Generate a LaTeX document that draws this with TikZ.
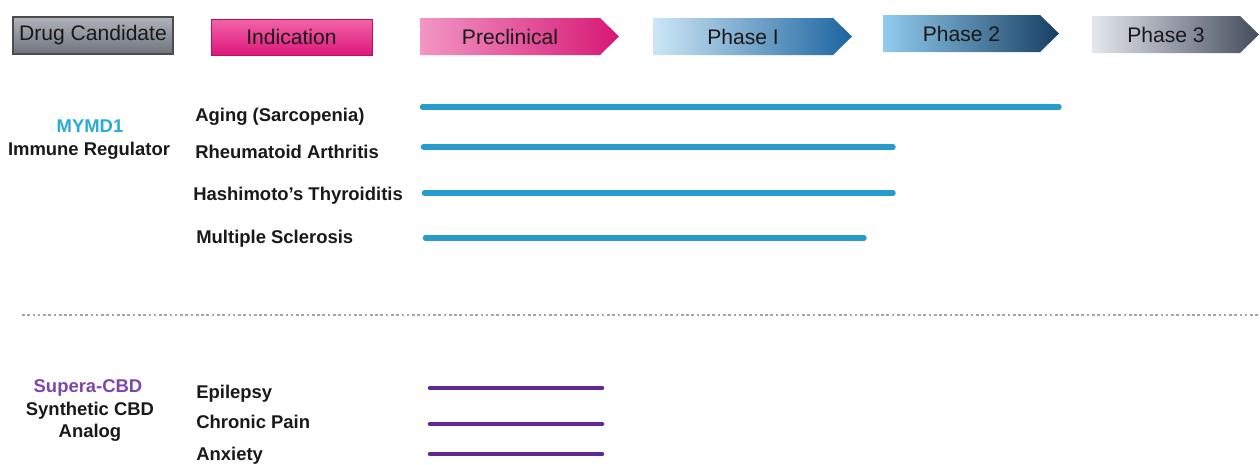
\documentclass[tikz,border=0pt]{standalone}
\usepackage{fontspec}
\setmainfont{Liberation Sans}
\definecolor{mymdblue}{RGB}{40,155,205}
\definecolor{mymdtext}{RGB}{42,170,215}
\definecolor{cbdpurple}{RGB}{95,40,150}
\definecolor{cbdtext}{RGB}{125,70,170}
\definecolor{candtop}{RGB}{175,180,188}
\definecolor{candbot}{RGB}{110,116,124}
\definecolor{indtop}{RGB}{242,100,168}
\definecolor{indbot}{RGB}{222,22,122}
\definecolor{preL}{RGB}{242,150,196}
\definecolor{preR}{RGB}{214,24,116}
\definecolor{phaL}{RGB}{205,230,246}
\definecolor{phaR}{RGB}{28,100,160}
\definecolor{phbL}{RGB}{145,204,238}
\definecolor{phbR}{RGB}{24,62,98}
\definecolor{phcL}{RGB}{228,232,238}
\definecolor{phcR}{RGB}{68,76,92}
\begin{document}
\begin{tikzpicture}[x=0.02cm,y=-0.02cm,
  every node/.style={font=\fontsize{10.5}{12}\selectfont\bfseries,text=black!90,inner sep=0pt},
  hdr/.style={font=\fontsize{12}{14}\selectfont,text=black!90},
  bluebar/.style={line width=3.1pt,mymdblue,line cap=round},
  purplebar/.style={line width=2.6pt,cbdpurple,line cap=round}]
\useasboundingbox (0,0) rectangle (1260,464);
% Header row
\node[hdr,draw=black!70,line width=0.8pt,top color=candtop,bottom color=candbot,minimum width=3.2cm,minimum height=0.74cm] (cand) at (93,35.5) {Drug Candidate};
\node[hdr,draw=indbot!80!black,line width=0.4pt,top color=indtop,bottom color=indbot,minimum width=3.22cm,minimum height=0.72cm] (ind) at (291.5,37) {Indication};
\foreach \xa/\ya/\w/\lc/\rc/\nm/\lbl in {420/18/180/preL/preR/pre/Preclinical,653/18/180/phaL/phaR/pha/Phase I,883/15/157/phbL/phbR/phb/Phase 2,1092/16/148/phcL/phcR/phc/Phase 3}{
  \shade[left color=\lc,right color=\rc] (\xa,\ya) -- ++(\w,0) -- ++(19,18.5) -- ++(-19,18.5) -- ++(-\w,0) -- cycle;
  \node[hdr] (\nm) at ({\xa+\w/2},{\ya+18.5}) {\lbl};
}
% MYMD1
\node[anchor=base,text=mymdtext] (mymd) at (90,132) {MYMD1};
\node[anchor=base] (mymdsub) at (89,155) {Immune Regulator};
\node[anchor=base west] (aging) at (195,121) {Aging (Sarcopenia)};
\node[anchor=base west] (ra) at (195,158) {Rheumatoid Arthritis};
\node[anchor=base west] (ht) at (193,200) {Hashimoto's Thyroiditis};
\node[anchor=base west] (ms) at (196,243) {Multiple Sclerosis};
\foreach \xs/\xe/\yy in {422.5/1059/107,423.5/893/147,424.5/893/193,425.5/864/238}
  \draw[bluebar] (\xs,\yy) -- (\xe,\yy);
% separator
\draw[black!35,line width=1.5pt,dash pattern=on 1.5pt off 1.5pt] (22,315) -- (1260,315);
% Supera-CBD
\node[anchor=base,text=cbdtext] (cbd) at (88,392) {Supera-CBD};
\node[anchor=base] (cbdsub) at (90,415) {Synthetic CBD};
\node[anchor=base] (cbdsub2) at (90,437) {Analog};
\node[anchor=base west] (epi) at (196,398) {Epilepsy};
\node[anchor=base west] (pain) at (196,428) {Chronic Pain};
\node[anchor=base west] (anx) at (196,460) {Anxiety};
\foreach \yy in {388,424,454}
  \draw[purplebar] (430,\yy) -- (602,\yy);
\end{tikzpicture}
\end{document}
